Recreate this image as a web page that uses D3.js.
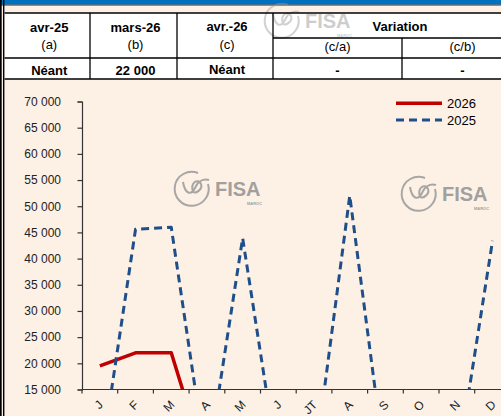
<!DOCTYPE html>
<html>
<head>
<meta charset="utf-8">
<script src="https://cdnjs.cloudflare.com/ajax/libs/d3/7.8.5/d3.min.js"></script>
<style>
	body { margin: 0; overflow: hidden; background: #FDF1E6; }
	svg { display: block; font-family: "Liberation Sans", Arial, sans-serif; }
</style>
</head>
<body>
<svg id="chart" width="501" height="416"></svg>
<script>
// table values
var headLabels = ["avr-25", "mars-26", "avr.-26"];
var headSubs = ["(a)", "(b)", "(c)"];
var headValues = ["Néant", "22 000", "Néant"];
var varTitle = "Variation";
var varSubs = ["(c/a)", "(c/b)"];
var varValues = ["-", "-"];

// chart values
var months = ["J", "F", "M", "A", "M", "J", "JT", "A", "S", "O", "N", "D"];
var values2026 = [19500, 22000, 22000, 0];
var values2025 = [0, 45600, 46000, 0, 43900, 0, 0, 52000, 0, 0, 0, 43400];
var yTicks = [15000, 20000, 25000, 30000, 35000, 40000, 45000, 50000, 55000, 60000, 65000, 70000];
var seriesNames = ["2026", "2025"];

var RED = "#C00000", BLUE = "#1F4E89", BG = "#FDF1E6";

var svg = d3.select("#chart");

svg.append("rect").attr("width", 501).attr("height", 416).attr("fill", BG);

// top blue band
svg.append("rect").attr("x", 0).attr("y", 0).attr("width", 501).attr("height", 4.5).attr("fill", "#0070C0");
svg.append("line").attr("x1", 0).attr("x2", 501).attr("y1", 5).attr("y2", 5).attr("stroke", "#1b2a3a").attr("stroke-width", 1);

// logo watermark (rough)
function drawLogo(x, y, op) {
	var g = svg.append("g").attr("transform", "translate(" + x + "," + y + ")").attr("opacity", op);
	g.append("path")
		.attr("d", "M 24 3 A 17 17 0 1 0 34 14")
		.attr("fill", "none").attr("stroke", "#9a9a9a").attr("stroke-width", 2);
	g.append("path")
		.attr("d", "M 9 12 C 11 24, 17 26, 21 18 C 23 12, 29 8, 35 10 M 19 22 C 16 12, 24 8, 27 14 C 29 19, 22 24, 19 22")
		.attr("fill", "none").attr("stroke", "#9a9a9a").attr("stroke-width", 2);
	g.append("text").attr("x", 41).attr("y", 26)
		.attr("font-size", 20).attr("font-weight", "bold").attr("fill", "#929292").text("FISA");
	g.append("text").attr("x", 73).attr("y", 35)
		.attr("font-size", 4).attr("font-weight", "bold").attr("fill", "#929292").text("MAROC");
}

// table
var tTop = 13, tMid = 38, tRow = 58, tBot = 79;
var colX = [4.5, 90, 177, 273, 402, 523];

svg.append("rect").attr("x", 4.5).attr("y", tTop).attr("width", 520).attr("height", tBot - tTop).attr("fill", "#fff");

drawLogo(264, 2, 0.45);

var tbl = svg.append("g").attr("stroke", "#000").attr("stroke-width", 1.3);
[tTop, tRow, tBot].forEach(function(y) {
	tbl.append("line").attr("x1", 4.5).attr("x2", 501).attr("y1", y).attr("y2", y);
});
tbl.append("line").attr("x1", colX[3]).attr("x2", 501).attr("y1", tMid).attr("y2", tMid);
[1, 2, 3].forEach(function(i) {
	tbl.append("line").attr("x1", colX[i]).attr("x2", colX[i]).attr("y1", tTop).attr("y2", tBot);
});
tbl.append("line").attr("x1", colX[4]).attr("x2", colX[4]).attr("y1", tMid).attr("y2", tBot);

var txt = svg.append("g").attr("text-anchor", "middle").attr("fill", "#000").attr("font-size", 13);
headLabels.forEach(function(d, i) {
	var cx = (colX[i] + colX[i + 1]) / 2 + 2;
	txt.append("text").attr("x", cx).attr("y", i == 2 ? 31 : 32).attr("font-weight", "bold").text(d);
	txt.append("text").attr("x", cx).attr("y", 49).text(headSubs[i]);
	txt.append("text").attr("x", cx).attr("y", i == 2 ? 73.5 : 74.5).attr("font-weight", "bold").text(headValues[i]);
});
txt.append("text").attr("x", 400).attr("y", 31).attr("font-weight", "bold").text(varTitle);
varSubs.forEach(function(d, i) {
	var cx = (colX[i + 3] + colX[i + 4]) / 2;
	txt.append("text").attr("x", cx).attr("y", 50.5).text(d);
	txt.append("text").attr("x", cx).attr("y", 74.5).attr("font-weight", "bold").text(varValues[i]);
});

// left double border
svg.append("rect").attr("x", 0).attr("y", 0).attr("width", 1.7).attr("height", 416).attr("fill", "#000");
svg.append("rect").attr("x", 3).attr("y", 0).attr("width", 1.4).attr("height", 416).attr("fill", "#000");

// chart
var x0 = 82, x1 = 510.4, yTop = 101.5, yBot = 389.5;

var x = d3.scaleBand().domain(d3.range(months.length)).range([x0, x1]).padding(0);
var y = d3.scaleLinear().domain([15000, 70000]).range([yBot, yTop]);

drawLogo(174, 170, 0.85);
drawLogo(401, 175, 0.85);

var fmt = function(v) { return d3.format(",")(v).replace(/,/g, " "); };

var yAxis = svg.append("g").attr("transform", "translate(" + x0 + ",0)")
	.call(d3.axisLeft(y).tickValues(yTicks).tickSize(4.5).tickPadding(16.5).tickFormat(fmt));
yAxis.select(".domain").attr("stroke", "#333").attr("stroke-width", 1.2);
yAxis.selectAll(".tick line").attr("stroke", "#333").attr("stroke-width", 1.2);
yAxis.selectAll("text").attr("font-size", 12).attr("fill", "#222")
	.attr("font-family", "'Liberation Sans', Arial, sans-serif");

// x axis: ticks between categories
var xAxis = svg.append("g");
xAxis.append("line").attr("x1", x0).attr("x2", 501).attr("y1", yBot).attr("y2", yBot)
	.attr("stroke", "#333").attr("stroke-width", 1.2);
d3.range(months.length + 1).forEach(function(i) {
	var xx = i < months.length ? x(i) : x1;
	xAxis.append("line").attr("x1", xx).attr("x2", xx).attr("y1", yBot).attr("y2", yBot + 4)
		.attr("stroke", "#333").attr("stroke-width", 1.2);
});
months.forEach(function(m, i) {
	var cx = x(i) + x.bandwidth() / 2;
	xAxis.append("text")
		.attr("transform", "translate(" + (cx + 1) + "," + (yBot + 13) + ") rotate(-45)")
		.attr("text-anchor", "end").attr("dy", "0.35em")
		.attr("font-size", 12).attr("fill", "#222").text(m);
});

svg.append("clipPath").attr("id", "plotClip")
	.append("rect").attr("x", x0).attr("y", 0).attr("width", x1 - x0 + 5).attr("height", yBot);

var line = d3.line()
	.x(function(d, i) { return x(i) + x.bandwidth() / 2; })
	.y(function(d) { return y(d); });

var plot = svg.append("g").attr("clip-path", "url(#plotClip)");
plot.append("path").datum(values2026).attr("d", line)
	.attr("fill", "none").attr("stroke", RED).attr("stroke-width", 3.5)
	.attr("stroke-linejoin", "round");
plot.append("path").datum(values2025).attr("d", line)
	.attr("fill", "none").attr("stroke", BLUE).attr("stroke-width", 3)
	.attr("stroke-dasharray", "8,5").attr("stroke-linejoin", "round");

// legend
var lg = svg.append("g");
lg.append("line").attr("x1", 396).attr("x2", 442).attr("y1", 103.3).attr("y2", 103.3)
	.attr("stroke", RED).attr("stroke-width", 3.5);
lg.append("line").attr("x1", 396).attr("x2", 442).attr("y1", 120).attr("y2", 120)
	.attr("stroke", BLUE).attr("stroke-width", 3).attr("stroke-dasharray", "8,5");
lg.append("text").attr("x", 447).attr("y", 108).attr("font-size", 13).attr("fill", "#000").text(seriesNames[0]);
lg.append("text").attr("x", 447).attr("y", 125).attr("font-size", 13).attr("fill", "#000").text(seriesNames[1]);
</script>
</body>
</html>
